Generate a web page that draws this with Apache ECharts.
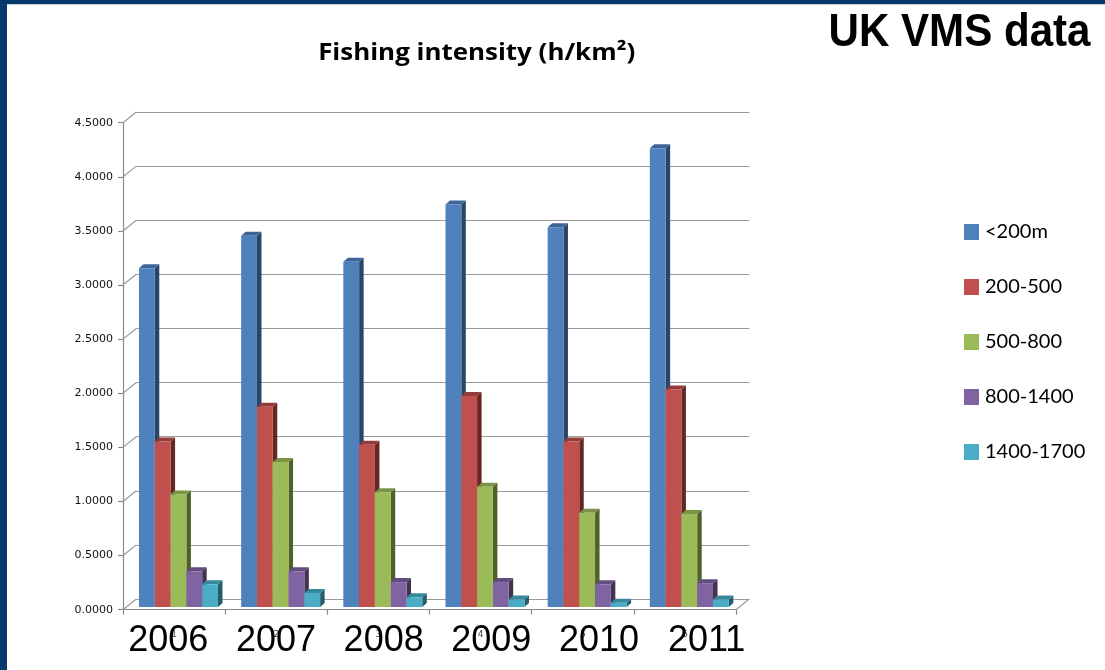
<!DOCTYPE html>
<html>
<head>
<meta charset="utf-8">
<title>Fishing intensity (h/km²) – UK VMS data</title>
<script src="https://cdn.jsdelivr.net/npm/echarts@6/dist/echarts.min.js"></script>
<style>
  html, body { margin: 0; padding: 0; background: #ffffff; }
  #chart { width: 1105px; height: 670px; }
</style>
</head>
<body>
<div id="chart"></div>
<script>
// Category labels of the chart axis, and the year captions written under them
const chartIndex = ['1', '2', '3', '4', '5', '6'];
const years = ['2006', '2007', '2008', '2009', '2010', '2011'];

// Depth bands (legend) and fishing intensity in h/km² per year
const depthBands = ['<200m', '200-500', '500-800', '800-1400', '1400-1700'];
const below200 = [3.13, 3.43, 3.19, 3.72, 3.51, 4.24];
const from200to500 = [1.53, 1.85, 1.50, 1.95, 1.53, 2.01];
const from500to800 = [1.04, 1.34, 1.06, 1.11, 0.87, 0.86];
const from800to1400 = [0.33, 0.33, 0.23, 0.23, 0.21, 0.22];
const from1400to1700 = [0.21, 0.13, 0.09, 0.07, 0.04, 0.07];
const bandValues = [below200, from200to500, from500to800, from800to1400, from1400to1700];

// Value axis ticks
const yTicks = [0, 0.5, 1.0, 1.5, 2.0, 2.5, 3.0, 3.5, 4.0, 4.5];

// Colours of the front, top and side faces of each column
const frontColors = ['#4f81bd', '#c0504d', '#9bbb59', '#8064a2', '#4bacc6'];
const topColors   = ['#3d6597', '#953b39', '#7a9445', '#634d80', '#37889d'];
const sideColors  = ['#2b4568', '#642724', '#4f6127', '#42334f', '#245c6b'];

const GRID = '#9a9a9a';
const DEPTH_X = 13.3, DEPTH_Y = 10.7;   // offset of the back wall
const BAR_DX = 4.5, BAR_DY = 4;         // thickness of each column
const BAR_SHIFT_X = 4.4, BAR_SHIFT_Y = -2.7;

const chart = echarts.init(document.getElementById('chart'), null, { renderer: 'canvas' });

function columnRenderer(k) {
  return function (params, api) {
    const band = api.size([1, 0])[0];
    const bw = band * 0.1546;
    const groupW = bw * depthBands.length;
    const top = api.coord([api.value(0), api.value(1)]);
    const base = api.coord([api.value(0), 0]);
    const x0 = top[0] - groupW / 2 + k * bw + BAR_SHIFT_X;
    const x1 = x0 + bw;
    const yt = top[1] + BAR_SHIFT_Y;
    const yb = base[1] + BAR_SHIFT_Y;
    return {
      type: 'group',
      children: [
        { type: 'polygon', shape: { points: [[x1, yt], [x1 + BAR_DX, yt - BAR_DY], [x1 + BAR_DX, yb - BAR_DY], [x1, yb]] },
          style: { fill: sideColors[k] } },
        { type: 'polygon', shape: { points: [[x0, yt], [x0 + BAR_DX, yt - BAR_DY], [x1 + BAR_DX, yt - BAR_DY], [x1, yt]] },
          style: { fill: topColors[k] } },
        { type: 'rect', shape: { x: x0, y: yt, width: bw, height: yb - yt },
          style: { fill: frontColors[k] } }
      ]
    };
  };
}

const columnSeries = depthBands.map((name, k) => ({
  name: name,
  type: 'custom',
  xAxisIndex: 0,
  yAxisIndex: 0,
  clip: false,
  z: 5,
  itemStyle: { color: frontColors[k] },
  encode: { x: 0, y: 1 },
  data: bandValues[k].map((v, i) => [i, v]),
  renderItem: columnRenderer(k)
}));

// Diagonal edges joining the front axis to the back wall
const wallSeries = {
  type: 'custom',
  xAxisIndex: 0,
  yAxisIndex: 0,
  clip: false,
  silent: true,
  z: 1,
  encode: { x: 0, y: 1 },
  data: yTicks.map(v => [0, v]),
  renderItem: function (params, api) {
    const cs = params.coordSys;
    const y = api.coord([0, api.value(1)])[1];
    const children = [
      { type: 'line', shape: { x1: cs.x, y1: y, x2: cs.x + DEPTH_X, y2: y - DEPTH_Y },
        style: { stroke: GRID, lineWidth: 1.2 } }
    ];
    if (api.value(1) === 0) {
      const xr = cs.x + cs.width;
      children.push({ type: 'line', shape: { x1: xr, y1: y, x2: xr + DEPTH_X, y2: y - DEPTH_Y },
        style: { stroke: GRID, lineWidth: 1.2 } });
    }
    return { type: 'group', children: children };
  }
};

const option = {
  backgroundColor: '#ffffff',
  animation: false,
  graphic: [
    { type: 'rect', shape: { x: 0, y: 0, width: 1105, height: 4 }, style: { fill: '#063a6c' }, z: 10 },
    { type: 'rect', shape: { x: 0, y: 4, width: 1105, height: 1 }, style: { fill: '#c9ccd2' }, z: 10 },
    { type: 'rect', shape: { x: 0, y: 0, width: 7, height: 670 }, style: { fill: '#063a6c' }, z: 11 },
    { type: 'text', x: 476.7, y: 53, scaleX: 1.08, z: 10,
      style: { text: 'Fishing intensity (h/km²)', font: 'bold 24px "Open Sans"', fill: '#000000',
               align: 'center', verticalAlign: 'middle' } },
    { type: 'text', x: 959.5, y: 33, scaleX: 0.896, z: 10,
      style: { text: 'UK VMS data', font: 'bold 47px "Liberation Sans"', fill: '#000000',
               align: 'center', verticalAlign: 'middle' } }
  ],
  legend: {
    data: depthBands,
    orient: 'vertical',
    left: 964,
    top: 222,
    itemWidth: 15,
    itemHeight: 16,
    itemGap: 35,
    icon: 'rect',
    padding: 0,
    textStyle: { fontFamily: 'Lato', fontSize: 20, color: '#000000', padding: [0, 0, 0, 1] }
  },
  grid: [
    { left: 123, top: 122.7, width: 613, height: 487 },          // front plane
    { left: 123 + DEPTH_X, top: 122.7 - DEPTH_Y, width: 613, height: 487 }, // back wall
    { left: 114.5, top: 122.7, width: 646, height: 487 }          // year captions
  ],
  xAxis: [
    {
      gridIndex: 0, type: 'category', data: chartIndex, boundaryGap: true,
      axisLine: { show: true, lineStyle: { color: '#8a8a8a', width: 1.2 } },
      axisTick: { show: true, length: 5, lineStyle: { color: '#8a8a8a', width: 1.2 } },
      axisLabel: { fontSize: 9, fontFamily: 'DejaVu Sans', color: '#444444', margin: 20 },
      splitLine: { show: false }
    },
    { gridIndex: 1, type: 'category', data: chartIndex, show: false },
    {
      gridIndex: 2, type: 'category', data: years, boundaryGap: true,
      axisLine: { show: false }, axisTick: { show: false },
      axisLabel: { fontSize: 36, fontFamily: 'Liberation Sans', color: '#000000', margin: 13, lineHeight: 36 },
      splitLine: { show: false }
    }
  ],
  yAxis: [
    {
      gridIndex: 0, type: 'value', min: 0, max: 4.5, interval: 0.5,
      axisLine: { show: true, lineStyle: { color: '#8a8a8a', width: 1.2 } },
      axisTick: { show: true, length: 5, lineStyle: { color: '#8a8a8a', width: 1.2 } },
      axisLabel: { fontSize: 11, fontFamily: 'DejaVu Sans', color: '#111111', margin: 10,
                   formatter: v => v.toFixed(4) },
      splitLine: { show: false }
    },
    {
      gridIndex: 1, type: 'value', min: 0, max: 4.5, interval: 0.5,
      axisLine: { show: false }, axisTick: { show: false }, axisLabel: { show: false },
      splitLine: { show: true, lineStyle: { color: GRID, width: 1.2 } }
    },
    { gridIndex: 2, type: 'value', min: 0, max: 4.5, show: false, splitLine: { show: false } }
  ],
  series: [wallSeries].concat(columnSeries)
};

chart.setOption(option);
</script>
</body>
</html>
